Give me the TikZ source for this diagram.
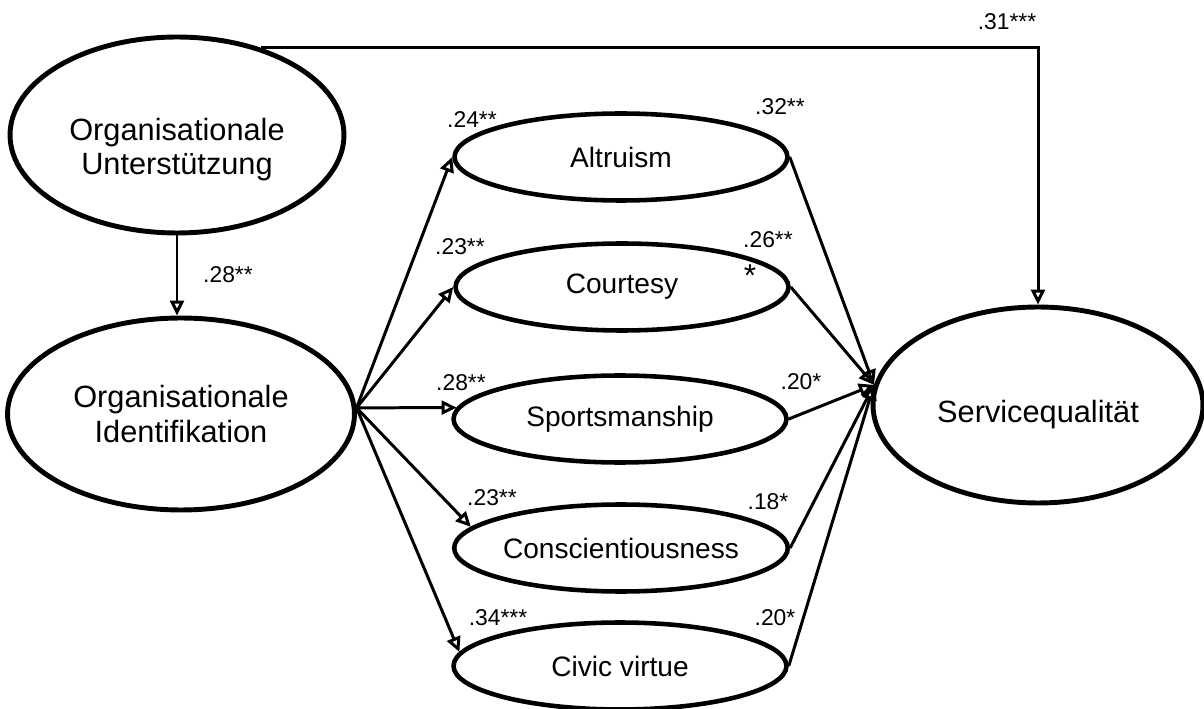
\documentclass[tikz,border=0pt]{standalone}
\usepackage{fontspec}
\setmainfont{Liberation Sans}
\usetikzlibrary{positioning,shapes,arrows.meta}

\begin{document}
\begin{tikzpicture}[x=0.02cm,y=-0.02cm,line width=1.7pt,>={Triangle[open,length=0.3cm,width=0.28cm]},
  construct/.style={shape=ellipse,draw=black,line width=2.8pt,inner sep=0pt,align=center,font=\fontsize{17.5}{19.5}\selectfont},
  facet/.style={shape=ellipse,draw=black,line width=2.6pt,inner sep=0pt,minimum width=6.66cm,minimum height=1.74cm,font=\fontsize{16}{19}\selectfont},
  coef/.style={inner sep=0pt,font=\fontsize{13}{15}\selectfont}]
\useasboundingbox (0,0) rectangle (1204,709);

\node[construct,minimum width=6.68cm,minimum height=3.92cm,text height=49pt] (ou) at (177,135) {Organisationale\\Unterstützung};
\node[construct,minimum width=6.94cm,minimum height=3.84cm] (oi) at (181,414) {Organisationale\\Identifikation};
\node[construct,minimum width=6.6cm,minimum height=3.92cm,text height=24pt] (sq) at (1038,405) {Servicequalität};

\node[facet] (al) at (621,157) {Altruism};
\node[facet] (cu) at (622,287) {Courtesy};
\node[facet] (sp) at (620,419) {Sportsmanship};
\node[facet] (co) at (621,548) {Conscientiousness};
\node[facet] (cv) at (620,666) {Civic virtue};

\node[coef] (c31) at (1007,22) {.31***};
\node[coef] (c28a) at (228,275) {.28**};
\node[coef] (c24) at (472,120) {.24**};
\node[coef] (c32) at (780,107) {.32**};
\node[coef] (c23a) at (460,247) {.23**};
\node[coef] (c26) at (768,240) {.26**};
\node[inner sep=0pt,font=\fontsize{18}{18}\selectfont] (star) at (750,276) {*};
\node[coef] (c28b) at (461,383) {.28**};
\node[coef] (c20a) at (801,382) {.20*};
\node[coef] (c23b) at (492,498) {.23**};
\node[coef] (c18) at (768,502) {.18*};
\node[coef] (c34) at (498,618) {.34***};
\node[coef] (c20b) at (775,618) {.20*};

\draw[->,black] (ou.46) -| (sq.north);
\draw[->,black] (ou.south) -- (ou.south |- oi.north);

\draw[->,black] (oi.2) -- (al.west);
\draw[->,black] (oi.2) -- (cu.west);
\draw[->,black] (oi.2) -- (sp.176);
\draw[->,black] (oi.2) -- (co.172);
\draw[->,black] (oi.2) -- (cv.175);

\draw[->,black] (al.east) -- (sq.173);
\draw[->,black] (cu.east) -- (sq.173);
\draw[->,black] (sp.east) -- (sq.173);
\draw[->,black] (co.east) -- (sq.173);
\draw[->,black] (cv.east) -- (sq.173);
\end{tikzpicture}
\end{document}
